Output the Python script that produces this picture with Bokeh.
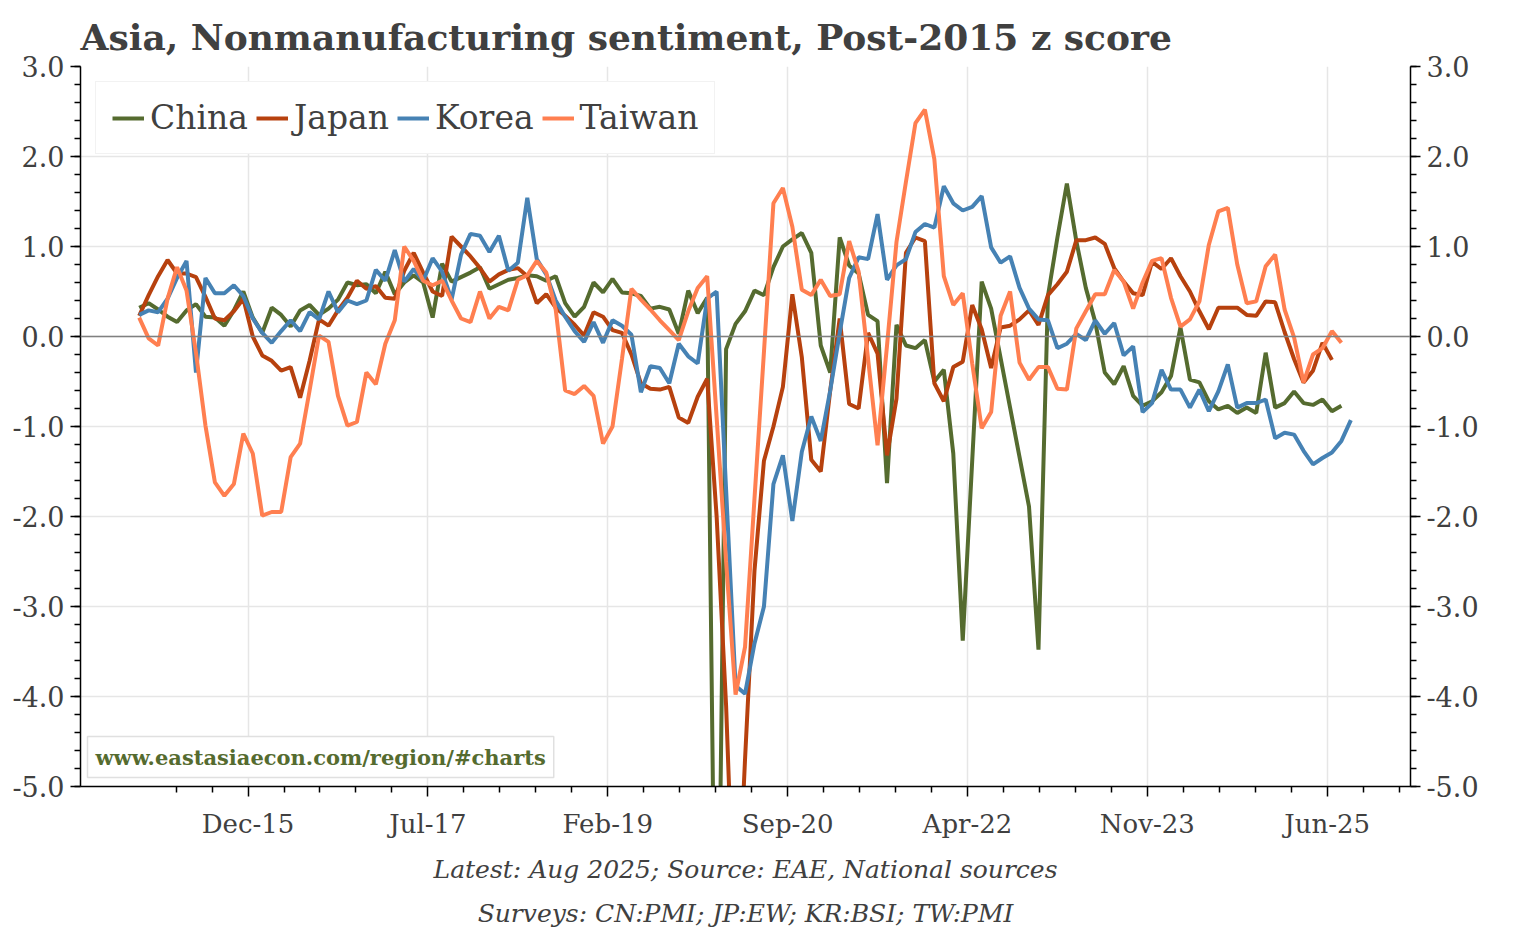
from bokeh.plotting import figure
from bokeh.models import (Range1d, LinearAxis, FixedTicker, SingleIntervalTicker,
                          PrintfTickFormatter, Span, Label, Title)
from bokeh.embed import file_html
from bokeh.resources import INLINE

# Monthly z scores, first observation = Jan 2015
start_year = 2015
china = [0.32, 0.37, 0.30, 0.22, 0.16, 0.29, 0.36, 0.22, 0.21, 0.12, 0.29, 0.50,
         0.21, 0.04, 0.32, 0.24, 0.11, 0.29, 0.35, 0.24, 0.31, 0.41, 0.60, 0.57,
         0.58, 0.48, 0.72, 0.47, 0.60, 0.68, 0.60, 0.21, 0.81, 0.61, 0.66, 0.71,
         0.77, 0.53, 0.58, 0.63, 0.65, 0.68, 0.67, 0.62, 0.67, 0.37, 0.22, 0.33,
         0.60, 0.49, 0.64, 0.49, 0.48, 0.45, 0.31, 0.33, 0.30, 0.03, 0.51, 0.26,
         0.43, -8.5, -0.14, 0.14, 0.28, 0.51, 0.46, 0.77, 1.00, 1.08, 1.15, 0.93,
         -0.10, -0.40, 1.10, 0.79, 0.70, 0.24, 0.17, -1.63, 0.13, -0.10, -0.13, -0.04,
         -0.50, -0.37, -1.30, -3.38, -1.38, 0.61, 0.31, -0.24, -0.79, -1.34, -1.89, -3.48,
         0.45, 1.10, 1.70, 1.06, 0.54, 0.16, -0.40, -0.53, -0.33, -0.66, -0.77, -0.72,
         -0.62, -0.44, 0.10, -0.48, -0.51, -0.72, -0.81, -0.77, -0.85, -0.79, -0.85, -0.18,
         -0.79, -0.74, -0.61, -0.74, -0.76, -0.70, -0.83, -0.77]
japan = [0.23, 0.46, 0.67, 0.85, 0.70, 0.70, 0.66, 0.44, 0.20, 0.18, 0.28, 0.42,
         0.00, -0.21, -0.27, -0.38, -0.34, -0.68, -0.27, 0.19, 0.12, 0.29, 0.43, 0.62,
         0.53, 0.56, 0.43, 0.42, 0.73, 0.93, 0.71, 0.50, 0.45, 1.11, 1.00, 0.89,
         0.76, 0.61, 0.69, 0.74, 0.76, 0.67, 0.37, 0.47, 0.32, 0.23, 0.13, 0.01,
         0.27, 0.22, 0.07, 0.04, -0.20, -0.52, -0.58, -0.59, -0.56, -0.90, -0.96, -0.67,
         -0.47, -2.0, -4.1, -7.0, -4.7, -2.6, -1.38, -1.00, -0.56, 0.47, -0.23, -1.37,
         -1.50, -0.60, 0.20, -0.75, -0.80, 0.04, -0.19, -1.32, -0.69, 0.93, 1.10, 1.06,
         -0.52, -0.72, -0.34, -0.28, 0.35, 0.08, -0.35, 0.10, 0.12, 0.19, 0.29, 0.13,
         0.46, 0.58, 0.72, 1.07, 1.07, 1.10, 1.03, 0.76, 0.61, 0.48, 0.46, 0.83,
         0.75, 0.87, 0.67, 0.50, 0.28, 0.08, 0.32, 0.32, 0.32, 0.24, 0.23, 0.39,
         0.38, 0.05, -0.25, -0.51, -0.38, -0.07, -0.26]
korea = [0.24, 0.29, 0.27, 0.42, 0.65, 0.84, -0.40, 0.65, 0.48, 0.48, 0.57, 0.45,
         0.20, 0.04, -0.07, 0.06, 0.18, 0.06, 0.27, 0.19, 0.50, 0.27, 0.40, 0.36,
         0.40, 0.74, 0.62, 0.96, 0.61, 0.75, 0.62, 0.87, 0.72, 0.41, 0.91, 1.14,
         1.12, 0.94, 1.12, 0.73, 0.82, 1.54, 0.86, 0.69, 0.40, 0.22, 0.06, -0.06,
         0.16, -0.07, 0.18, 0.12, 0.02, -0.62, -0.33, -0.35, -0.52, -0.08, -0.22, -0.30,
         0.42, 0.50, -1.70, -3.88, -3.97, -3.41, -3.00, -1.64, -1.32, -2.05, -1.28, -0.89,
         -1.16, -0.60, 0.04, 0.65, 0.88, 0.86, 1.36, 0.63, 0.79, 0.86, 1.16, 1.25,
         1.21, 1.67, 1.48, 1.40, 1.44, 1.56, 0.99, 0.82, 0.89, 0.54, 0.31, 0.19,
         0.18, -0.13, -0.08, 0.03, -0.04, 0.18, 0.03, 0.15, -0.21, -0.11, -0.84, -0.74,
         -0.37, -0.59, -0.59, -0.79, -0.59, -0.83, -0.61, -0.31, -0.79, -0.74, -0.74, -0.70,
         -1.13, -1.07, -1.09, -1.27, -1.42, -1.35, -1.29, -1.16, -0.93]
taiwan = [0.21, -0.02, -0.10, 0.42, 0.77, 0.51, -0.18, -0.99, -1.62, -1.77, -1.64, -1.08,
          -1.30, -1.99, -1.95, -1.95, -1.34, -1.19, -0.60, 0.01, -0.06, -0.66, -0.99, -0.95,
          -0.40, -0.53, -0.08, 0.18, 1.00, 0.84, 0.62, 0.57, 0.62, 0.40, 0.20, 0.16,
          0.50, 0.20, 0.33, 0.29, 0.63, 0.68, 0.84, 0.71, 0.30, -0.60, -0.64, -0.55,
          -0.66, -1.19, -1.00, -0.25, 0.53, 0.41, 0.30, 0.18, 0.07, -0.04, 0.28, 0.54,
          0.67, -0.90, -2.50, -3.98, -3.45, -1.80, -0.17, 1.48, 1.65, 1.22, 0.52, 0.46,
          0.63, 0.45, 0.47, 1.06, 0.72, -0.25, -1.21, -0.10, 1.05, 1.72, 2.37, 2.52,
          1.97, 0.67, 0.35, 0.48, -0.30, -1.02, -0.84, 0.23, 0.50, -0.29, -0.48, -0.34,
          -0.34, -0.58, -0.59, 0.09, 0.28, 0.47, 0.47, 0.74, 0.61, 0.31, 0.60, 0.84,
          0.87, 0.43, 0.11, 0.19, 0.39, 1.02, 1.39, 1.43, 0.80, 0.37, 0.39, 0.78,
          0.91, 0.30, -0.01, -0.51, -0.20, -0.13, 0.06, -0.07]

series_names = ["China", "Japan", "Korea", "Taiwan"]
series_colors = ["#556B2F", "#B7410E", "#4682B4", "#FF7F50"]
tick_labels = ["Dec-15", "Jul-17", "Feb-19", "Sep-20", "Apr-22", "Nov-23", "Jun-25"]

MONTHS = ["Jan", "Feb", "Mar", "Apr", "May", "Jun", "Jul", "Aug", "Sep", "Oct", "Nov", "Dec"]


def label_pos(lbl):
    mon, yy = lbl.split("-")
    return (2000 + int(yy) - start_year) * 12 + MONTHS.index(mon) + 0.5


major_x = [label_pos(t) for t in tick_labels]
step = (major_x[1] - major_x[0]) / 5.0
minor_x = [major_x[0] + k * step for k in range(-2, 5 * (len(major_x) - 1) + 3) if k % 5 != 0]

TEXT = "#404040"
FONT = "DejaVu Serif"

p = figure(width=1534, height=930, output_backend="svg", toolbar_location=None,
           x_range=Range1d(-6.2, 134.3), y_range=Range1d(-5, 3),
           title="Asia, Nonmanufacturing sentiment, Post-2015 z score",
           min_border_left=80, min_border_right=124, min_border_top=66, min_border_bottom=144)
p.outline_line_color = None
p.background_fill_color = "white"
p.border_fill_color = "white"

p.title.align = "left"
p.title.text_font = FONT
p.title.text_font_style = "bold"
p.title.text_font_size = "36px"
p.title.text_color = TEXT
p.title.standoff = 17

# zero line
p.add_layout(Span(location=0, dimension="width", line_color="#808080", line_width=1.5))

for name, col, data in zip(series_names, series_colors, [china, japan, korea, taiwan]):
    p.line(list(range(len(data))), data, line_color=col, line_width=4, legend_label=name)

# axes
p.xaxis.ticker = FixedTicker(ticks=major_x, minor_ticks=minor_x)
p.xaxis.major_label_overrides = {t: l for t, l in zip(major_x, tick_labels)}
p.yaxis.ticker = SingleIntervalTicker(interval=1, num_minor_ticks=5)
p.yaxis.formatter = PrintfTickFormatter(format="%.1f")
right = LinearAxis(ticker=SingleIntervalTicker(interval=1, num_minor_ticks=5),
                   formatter=PrintfTickFormatter(format="%.1f"))
p.add_layout(right, "right")

for ax in [p.xaxis[0], p.yaxis[0], right]:
    ax.axis_line_color = "black"
    ax.axis_line_width = 1.5
    ax.major_tick_line_color = "black"
    ax.major_tick_line_width = 1.5
    ax.minor_tick_line_color = "black"
    ax.minor_tick_line_width = 1.5
    ax.major_tick_out = 10
    ax.major_tick_in = 0
    ax.minor_tick_out = 6
    ax.minor_tick_in = 0
    ax.major_label_text_font = FONT
    ax.major_label_text_font_size = "26px"
    ax.major_label_text_color = TEXT
p.yaxis.major_label_text_font_size = "27px"
right.major_label_text_font_size = "27px"
p.xaxis.major_label_standoff = 12
p.yaxis.major_label_standoff = 6
right.major_label_standoff = 6

p.xgrid.ticker = p.xaxis[0].ticker
p.xgrid.grid_line_color = "#e6e6e6"
p.xgrid.grid_line_width = 1.5
p.ygrid.grid_line_color = "#e6e6e6"
p.ygrid.grid_line_width = 1.5

# legend
lg = p.legend[0]
lg.location = "top_left"
lg.orientation = "horizontal"
lg.margin = 15
lg.padding = 16
lg.spacing = 8
lg.label_standoff = 6
lg.glyph_width = 32
lg.label_text_font = FONT
lg.label_text_font_size = "33px"
lg.label_text_color = TEXT
lg.border_line_color = "#e6e6e6"
lg.border_line_width = 1.5
lg.background_fill_alpha = 1.0

# footer notes
p.add_layout(Title(text="Latest: Aug 2025; Source: EAE, National sources", align="center",
                   text_font=FONT, text_font_style="italic", text_font_size="25px",
                   text_color=TEXT, standoff=22), "below")
p.add_layout(Title(text="Surveys: CN:PMI; JP:EW; KR:BSI; TW:PMI", align="center",
                   text_font=FONT, text_font_style="italic", text_font_size="25px",
                   text_color=TEXT, standoff=5), "below")

# watermark
p.add_layout(Label(x=7, y=9, x_units="screen", y_units="screen",
                   text="www.eastasiaecon.com/region/#charts",
                   text_font=FONT, text_font_style="bold", text_font_size="21px",
                   text_color="#556B2F", text_align="left", text_baseline="bottom",
                   background_fill_color="white", border_line_color="#e0e0e0",
                   border_line_width=1.5, padding=8))

open("out.html", "w").write(file_html(p, INLINE))
